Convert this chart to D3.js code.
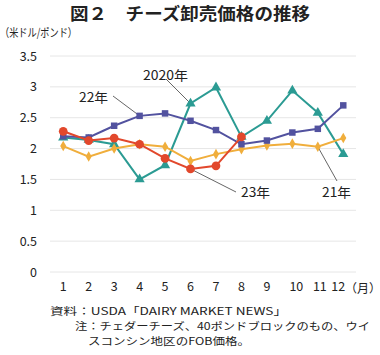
<!DOCTYPE html>
<html><head><meta charset="utf-8">
<script src="https://cdn.jsdelivr.net/npm/d3@7"></script>
<style>
body{margin:0;background:#fff;}
svg text{font-family:"Noto Sans CJK JP","Noto Sans",sans-serif;fill:#222;}
</style></head>
<body><svg id="c" width="380" height="355"></svg>
<script>
const months = [1,2,3,4,5,6,7,8,9,10,11,12];
const yTicks = [0,0.5,1,1.5,2,2.5,3,3.5];
const s2020 = [2.18,2.14,2.07,1.50,1.73,2.73,2.99,2.19,2.45,2.94,2.58,1.91];
const s2021 = [2.04,1.87,2.00,2.07,2.03,1.80,1.91,1.99,2.05,2.08,2.03,2.17];
const s2022 = [2.20,2.18,2.37,2.53,2.57,2.45,2.30,2.07,2.13,2.26,2.32,2.70];
const s2023 = [2.28,2.13,2.17,2.07,1.84,1.67,1.72,2.19];
const seriesNames = ["2020年","21年","22年","23年"];

const series = [
  {name:"2020年", values:s2020, color:"#2b9b93", shape:d3.symbolTriangle, size:45},
  {name:"21年", values:s2021, color:"#f0ae3c", shape:d3.symbolDiamond, size:32},
  {name:"22年", values:s2022, color:"#52529f", shape:d3.symbolSquare, size:42},
  {name:"23年", values:s2023, color:"#e2482c", shape:d3.symbolCircle, size:60}
];

const svg = d3.select("#c");
const x = d3.scaleBand().domain(months).range([50.5,356]);
const y = d3.scaleLinear().domain([0,3.5]).range([272,56]);
const cx = m => x(m) + x.bandwidth()/2;

svg.append("text").attr("x",70).attr("y",20)
  .attr("font-size",17).attr("font-weight","bold")
  .attr("textLength",240).attr("lengthAdjust","spacingAndGlyphs")
  .text("図２　チーズ卸売価格の推移");
svg.append("text").attr("x",0).attr("y",37).attr("font-size",11.5)
  .attr("textLength",77).attr("lengthAdjust","spacingAndGlyphs").text("（米ドル/ポンド）");

// grid
svg.append("g").selectAll("line").data(yTicks).join("line")
  .attr("x1",50).attr("x2",356).attr("y1",d=>y(d)).attr("y2",d=>y(d))
  .attr("stroke","#e6e6e6").attr("stroke-width",1);

// y axis
const ya = svg.append("g").attr("transform","translate(41,0)")
  .call(d3.axisLeft(y).tickValues(yTicks).tickSize(0).tickPadding(4).tickFormat(d=>String(d)));
ya.select(".domain").remove();
ya.selectAll("text").attr("font-size",12.5).attr("font-family","Noto Sans CJK JP");

// x axis
const xa = svg.append("g").attr("transform","translate(0,278)")
  .call(d3.axisBottom(x).tickSize(0).tickPadding(4));
xa.select(".domain").remove();
xa.selectAll("text").attr("font-size",12.5).attr("font-family","Noto Sans CJK JP")
  .attr("dx",d=> d===10?4: d===11?2: d===12? -5:0);
svg.append("text").attr("x",345).attr("y",293).attr("font-size",12).text("（月）");

// leader lines
const leaders = [
  {s:0, i:5, x2:166, y2:79},
  {s:2, i:3, x2:113, y2:96},
  {s:3, i:5, x2:236, y2:192},
  {s:1, i:10, x2:337, y2:181}
];
svg.append("g").selectAll("line").data(leaders).join("line")
  .attr("x1",d=>cx(months[d.i])).attr("y1",d=>y(series[d.s].values[d.i]))
  .attr("x2",d=>d.x2).attr("y2",d=>d.y2)
  .attr("stroke","#666").attr("stroke-width",1);

const line = d3.line().x((d,i)=>cx(months[i])).y(d=>y(d));
series.forEach(s=>{
  const g = svg.append("g");
  g.append("path").attr("d",line(s.values)).attr("fill","none")
    .attr("stroke",s.color).attr("stroke-width",2);
  g.selectAll("path.m").data(s.values).join("path").attr("class","m")
    .attr("transform",(d,i)=>`translate(${cx(months[i])},${y(d)})`)
    .attr("d",d3.symbol().type(s.shape).size(s.size)).attr("fill",s.color);
});

// series labels
const labels = [
  {t:seriesNames[0], x:143, y:80, w:45},
  {t:seriesNames[2], x:79, y:102, w:29},
  {t:seriesNames[3], x:241, y:197, w:29},
  {t:seriesNames[1], x:322, y:197, w:29}
];
svg.append("g").selectAll("text").data(labels).join("text")
  .attr("x",d=>d.x).attr("y",d=>d.y).attr("font-size",13)
  .attr("textLength",d=>d.w).attr("lengthAdjust","spacingAndGlyphs").text(d=>d.t);

// notes
const notes = [
  {t:"資料：USDA「DAIRY MARKET NEWS」", x:50, y:315, w:237},
  {t:"注：チェダーチーズ、40ポンドブロックのもの、ウイ", x:75, y:330, w:295},
  {t:"スコンシン地区のFOB価格。", x:88, y:345, w:162}
];
svg.append("g").selectAll("text").data(notes).join("text")
  .attr("x",d=>d.x).attr("y",d=>d.y).attr("font-size",10.3)
  .attr("textLength",d=>d.w).attr("lengthAdjust","spacingAndGlyphs").text(d=>d.t);
</script></body></html>
